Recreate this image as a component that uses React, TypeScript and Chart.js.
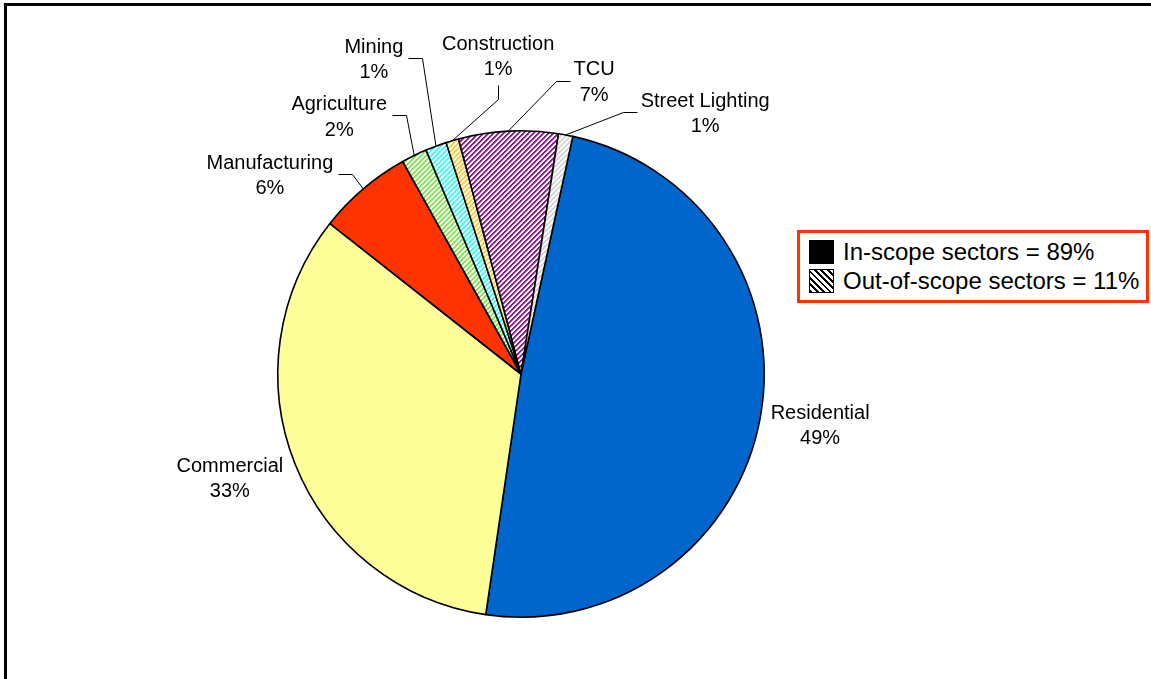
import React, { useEffect, useRef } from 'react';
import { Chart, registerables } from 'chart.js';

Chart.register(...registerables);

// ---- data ----
const categories = ['Residential', 'Commercial', 'Manufacturing', 'Agriculture', 'Mining', 'Construction', 'TCU', 'Street Lighting'];
const shares = [48.9, 33.3, 6.3, 1.7, 1.4, 0.85, 6.6, 0.95];
const legendLabels = ['In-scope sectors = 89%', 'Out-of-scope sectors = 11%'];

// ---- styling / layout (not data) ----
const sliceColors = ['#0066CC', '#FFFF99', '#FF3300', '#7FE64D', '#33FFFF', '#FFCC33', '#8B1A8B', '#D4D4D4'];
const sliceHatched = [false, false, false, true, true, true, true, true];
const labelAngles = [99.5, -109.5, -51.45, -35.1, -24.95, -4.1, 14.0, 35.1];
const labelDistances = [1.247, 1.27, 1.32, 1.3, 1.434, 1.316, 1.243, 1.317];
const leaderSides = ['none', 'none', 'right', 'right', 'right', 'bottom', 'left', 'left'];

const FONT = '"Liberation Sans", Arial, sans-serif';

function hexToRgb(hex: string): [number, number, number] {
  const h = hex.replace('#', '');
  return [parseInt(h.slice(0, 2), 16), parseInt(h.slice(2, 4), 16), parseInt(h.slice(4, 6), 16)];
}

function makeHatch(color: string): CanvasPattern | string {
  const n = 5;
  const tile = document.createElement('canvas');
  tile.width = n;
  tile.height = n;
  const t = tile.getContext('2d');
  if (!t) return color;
  const [r, g, b] = hexToRgb(color);
  const half = `rgb(${Math.round((r + 255) / 2)},${Math.round((g + 255) / 2)},${Math.round((b + 255) / 2)})`;
  t.fillStyle = '#ffffff';
  t.fillRect(0, 0, n, n);
  for (let x = 0; x < n; x++) {
    for (let y = 0; y < n; y++) {
      const d = (x + y) % n;
      if (d < 2) {
        t.fillStyle = color;
        t.fillRect(x, y, 1, 1);
      } else if (d === 2) {
        t.fillStyle = half;
        t.fillRect(x, y, 1, 1);
      }
    }
  }
  const p = t.createPattern(tile, 'repeat');
  return p || color;
}

const labelPlugin = {
  id: 'sliceLabels',
  afterDatasetsDraw(chart: any) {
    const ctx = chart.ctx as CanvasRenderingContext2D;
    const meta = chart.getDatasetMeta(0);
    const total = shares.reduce((a, b) => a + b, 0);
    ctx.save();
    ctx.font = '20px ' + FONT;
    ctx.fillStyle = '#000';
    ctx.strokeStyle = '#000';
    ctx.lineWidth = 1;
    ctx.textAlign = 'center';
    ctx.textBaseline = 'middle';
    meta.data.forEach((arc: any, i: number) => {
      const { x, y, startAngle, endAngle, outerRadius } = arc.getProps(['x', 'y', 'startAngle', 'endAngle', 'outerRadius'], true);
      const mid = (startAngle + endAngle) / 2;
      const a = (labelAngles[i] * Math.PI) / 180;
      const lx = x + Math.sin(a) * outerRadius * labelDistances[i];
      const ly = y - Math.cos(a) * outerRadius * labelDistances[i];
      const pct = Math.round((shares[i] / total) * 100) + '%';
      const lh = 25.5;
      ctx.fillText(categories[i], lx, ly - lh / 2 + 2);
      ctx.fillText(pct, lx, ly + lh / 2 + 2);
      const side = leaderSides[i];
      if (side !== 'none') {
        const w = Math.max(ctx.measureText(categories[i]).width, ctx.measureText(pct).width);
        const ex = x + Math.cos(mid) * outerRadius;
        const ey = y + Math.sin(mid) * outerRadius;
        let sx = lx, sy = ly, kx = lx, ky = ly;
        if (side === 'right') {
          sx = lx + w / 2 + 5; sy = ly; kx = sx + 14; ky = sy;
        } else if (side === 'left') {
          sx = lx - w / 2 - 4; sy = ly; kx = sx - 14; ky = sy;
        } else if (side === 'bottom') {
          sx = lx; sy = ly + 30; kx = sx; ky = sy + 14;
        }
        ctx.beginPath();
        ctx.moveTo(Math.round(sx) + 0.5, Math.round(sy) + 0.5);
        ctx.lineTo(Math.round(kx) + 0.5, Math.round(ky) + 0.5);
        ctx.lineTo(ex, ey);
        ctx.stroke();
      }
    });
    ctx.restore();
  },
};

export default function App() {
  const canvasRef = useRef<HTMLCanvasElement | null>(null);

  useEffect(() => {
    document.body.style.margin = '0';
    const canvas = canvasRef.current;
    if (!canvas) return;
    const bg = sliceColors.map((c, i) => (sliceHatched[i] ? makeHatch(c) : c));
    const chart = new Chart(canvas, {
      type: 'pie',
      data: {
        labels: categories,
        datasets: [
          {
            data: shares,
            backgroundColor: bg as any,
            borderColor: '#000000',
            borderWidth: 1.6,
          },
        ],
      },
      options: {
        responsive: false,
        animation: false,
        rotation: 12.3,
        layout: { padding: { left: 277, top: 130, right: 386, bottom: 61 } },
        plugins: {
          legend: { display: false },
          tooltip: { enabled: false },
        },
      },
      plugins: [labelPlugin],
    });
    return () => chart.destroy();
  }, []);

  const textStyle: React.CSSProperties = {
    position: 'absolute',
    left: 843,
    fontFamily: FONT,
    fontSize: '24px',
    lineHeight: '28px',
    color: '#000',
    whiteSpace: 'nowrap',
  };

  return (
    <div style={{ position: 'relative', width: 1151, height: 679, overflow: 'hidden', background: '#fff' }}>
      <div
        style={{
          position: 'absolute',
          left: 4,
          top: 3,
          width: 1300,
          height: 800,
          borderLeft: '3px solid #000',
          borderTop: '3px solid #000',
        }}
      />
      <canvas ref={canvasRef} width={1151} height={679} style={{ position: 'absolute', left: 0, top: 0 }} />
      <div
        style={{
          position: 'absolute',
          left: 797,
          top: 230,
          width: 352,
          height: 73,
          boxSizing: 'border-box',
          border: '3px solid #FF3300',
          background: '#fff',
        }}
      />
      <div style={{ position: 'absolute', left: 809, top: 240, width: 25, height: 24, background: '#000' }} />
      <div
        style={{
          position: 'absolute',
          left: 809,
          top: 269,
          width: 25,
          height: 24,
          boxSizing: 'border-box',
          border: '1px solid #000',
          background: 'repeating-linear-gradient(45deg, #000 0px, #000 2px, #fff 2px, #fff 4.5px)',
        }}
      />
      <div style={{ ...textStyle, top: 238 }}>{legendLabels[0]}</div>
      <div style={{ ...textStyle, top: 267 }}>{legendLabels[1]}</div>
    </div>
  );
}
